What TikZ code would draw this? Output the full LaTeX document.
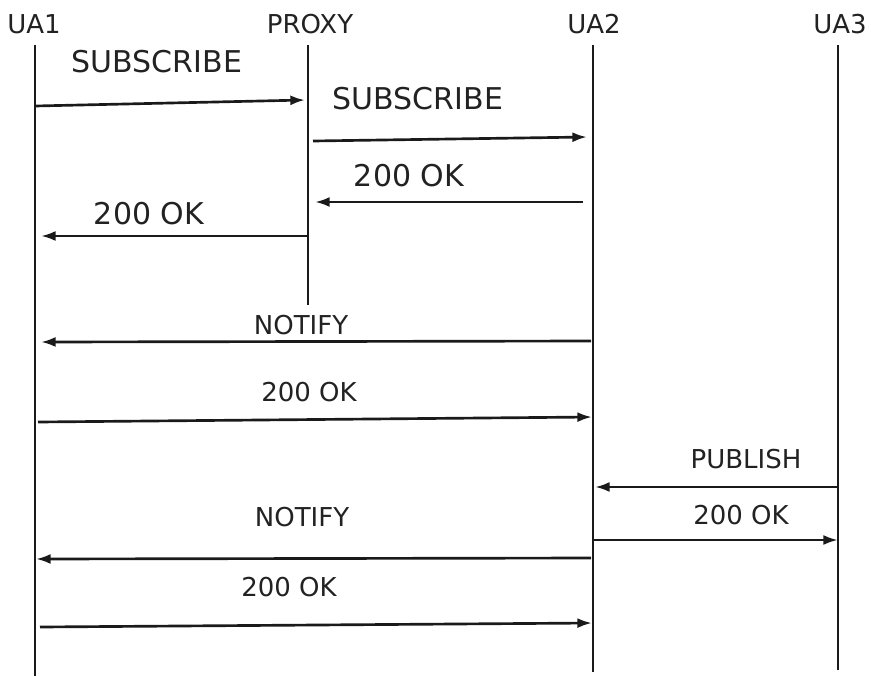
\documentclass[tikz,border=0pt]{standalone}
\usepackage{fontspec}
\setmainfont{DejaVu Sans}
\usetikzlibrary{arrows.meta, positioning}
\usepackage{xcolor}
\definecolor{inkline}{HTML}{1A1A1A}
\definecolor{inktext}{HTML}{222222}
\tikzset{
    actor/.style={
        font=\fontsize{19.5}{22}\selectfont, text=inktext, inner sep=0pt
    },
    lifeline/.style={
        line width=1.6pt, draw=inkline
    },
    msg/.style={
        -{Latex[length=11pt,width=7.5pt]}, line width=2pt, draw=inkline
    },
    biglabel/.style={
        font=\fontsize{22.5}{26}\selectfont, text=inktext, inner sep=0pt
    },
    msglabel/.style={
        font=\fontsize{19.5}{23}\selectfont, text=inktext, inner sep=0pt
    }
}

\begin{document}
\begin{tikzpicture}[x=0.75pt, y=-0.75pt]

    \useasboundingbox (0,0) rectangle (871,676);

    % ── Actors ──
    \node[actor] (ua1)   at (34,24)  {UA1};
    \node[actor] (proxy) at (310,24) {PROXY};
    \node[actor] (ua2)   at (594,24) {UA2};
    \node[actor] (ua3)   at (840,24) {UA3};

    \coordinate (ua1top)   at (35,45);   \coordinate (ua1bot)   at (35,676);
    \coordinate (proxytop) at (308,45);  \coordinate (proxybot) at (308,305);
    \coordinate (ua2top)   at (593,45);  \coordinate (ua2bot)   at (593,672);
    \coordinate (ua3top)   at (838,45);  \coordinate (ua3bot)   at (838,670);

    % ── Lifelines ──
    \draw[lifeline] (ua1top)   -- (ua1bot);
    \draw[lifeline] (proxytop) -- (proxybot);
    \draw[lifeline] (ua2top)   -- (ua2bot);
    \draw[lifeline] (ua3top)   -- (ua3bot);

    % ── Message ends ──
    \coordinate (subAs) at (35,106);  \coordinate (subAe) at (305,100);
    \coordinate (subBs) at (313,141); \coordinate (subBe) at (587,137);
    \coordinate (okAs)  at (583,202); \coordinate (okAe)  at (315,202);
    \coordinate (okBs)  at (308,236); \coordinate (okBe)  at (41,236);
    \coordinate (notAs) at (591,341); \coordinate (notAe) at (41,342);
    \coordinate (okCs)  at (38,422);  \coordinate (okCe)  at (592,417);
    \coordinate (pubs)  at (838,487); \coordinate (pube)  at (595,487);
    \coordinate (okDs)  at (593,540); \coordinate (okDe)  at (838,540);
    \coordinate (notBs) at (591,558); \coordinate (notBe) at (36,559);
    \coordinate (okEs)  at (40,627);  \coordinate (okEe)  at (592,623);

    % ── Messages ──
    \draw[msg] (subAs) -- (subAe);
    \draw[msg] (subBs) -- (subBe);
    \draw[msg] (okAs)  -- (okAe);
    \draw[msg] (okBs)  -- (okBe);
    \draw[msg] (notAs) -- (notAe);
    \draw[msg] (okCs)  -- (okCe);
    \draw[msg] (pubs)  -- (pube);
    \draw[msg] (okDs)  -- (okDe);
    \draw[msg] (notBs) -- (notBe);
    \draw[msg] (okEs)  -- (okEe);

    % ── Labels ──
    \node[biglabel] (subAlbl) at (157,62)  {SUBSCRIBE};
    \node[biglabel] (subBlbl) at (418,99)  {SUBSCRIBE};
    \node[biglabel] (okAlbl)  at (409,176) {200 OK};
    \node[biglabel] (okBlbl)  at (149,214) {200 OK};
    \node[msglabel] (notAlbl) at (301,325) {NOTIFY};
    \node[msglabel] (okClbl)  at (309,392) {200 OK};
    \node[msglabel] (publbl)  at (746,459) {PUBLISH};
    \node[msglabel] (okDlbl)  at (741,515) {200 OK};
    \node[msglabel] (notBlbl) at (302,517) {NOTIFY};
    \node[msglabel] (okElbl)  at (289,587) {200 OK};

\end{tikzpicture}
\end{document}
